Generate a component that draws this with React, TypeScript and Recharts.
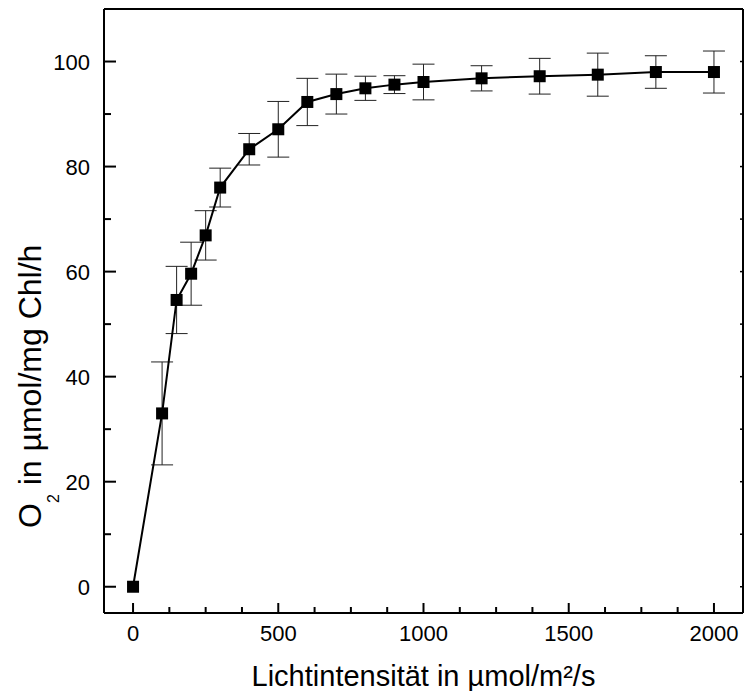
import { ComposedChart, Line, XAxis, YAxis, ErrorBar } from 'recharts';

// light intensity (µmol/m²/s)
const lightIntensity = [0, 100, 150, 200, 250, 300, 400, 500, 600, 700, 800, 900, 1000, 1200, 1400, 1600, 1800, 2000];
// O2 evolution (µmol/mg Chl/h)
const o2Rate = [0, 33.0, 54.6, 59.6, 66.9, 76.0, 83.3, 87.1, 92.3, 93.8, 94.9, 95.6, 96.1, 96.8, 97.2, 97.5, 98.0, 98.0];
const o2Error = [0, 9.8, 6.4, 6.0, 4.7, 3.7, 3.0, 5.3, 4.5, 3.8, 2.3, 1.7, 3.4, 2.4, 3.4, 4.1, 3.1, 4.0];

const xTicks = [0, 125, 250, 375, 500, 625, 750, 875, 1000, 1125, 1250, 1375, 1500, 1625, 1750, 1875, 2000];
const xLabels = [0, 500, 1000, 1500, 2000];
const yTicks = [0, 10, 20, 30, 40, 50, 60, 70, 80, 90, 100];
const yLabels = [0, 20, 40, 60, 80, 100];

const data = lightIntensity.map((x, i) => ({ x, y: o2Rate[i], err: o2Error[i] }));

const FONT = "'Liberation Sans', Arial, sans-serif";
const X_MARGIN = 10;
const Y_MARGIN = 14;

const BottomTick = (props: any) => {
  const { x, y, payload } = props;
  const axisY = y - X_MARGIN;
  const major = xLabels.includes(payload.value);
  return (
    <g>
      <line x1={x} x2={x} y1={axisY} y2={axisY - (major ? 10 : 6)} stroke="#000" strokeWidth={2} />
      {major && (
        <text x={x} y={axisY + 28} textAnchor="middle" fontSize={22} fontFamily={FONT} fill="#000">
          {payload.value}
        </text>
      )}
    </g>
  );
};

const LeftTick = (props: any) => {
  const { x, y, payload } = props;
  const axisX = x + Y_MARGIN;
  const major = yLabels.includes(payload.value);
  return (
    <g>
      <line x1={axisX} x2={axisX + (major ? 12 : 7)} y1={y} y2={y} stroke="#000" strokeWidth={2} />
      {major && (
        <text x={x} y={y + 8} textAnchor="end" fontSize={22} fontFamily={FONT} fill="#000">
          {payload.value}
        </text>
      )}
    </g>
  );
};

const TopTick = (props: any) => {
  const { x, y } = props;
  return <line x1={x} x2={x} y1={y} y2={y + 3} stroke="#000" strokeWidth={1.5} />;
};

const RightTick = (props: any) => {
  const { x, y } = props;
  return <line x1={x} x2={x - 3} y1={y} y2={y} stroke="#000" strokeWidth={1.5} />;
};

const Square = (props: any) => {
  const { cx, cy, index } = props;
  return <rect key={`sq-${index}`} x={cx - 6} y={cy - 6} width={12} height={12} fill="#000" />;
};

const YTitle = () => (
  <text transform="translate(41, 528) rotate(-90)" fontSize={32} fontFamily={FONT} fill="#000">
    O
    <tspan dy={18} fontSize={16}>2</tspan>
    <tspan dy={-18}> in µmol/mg Chl/h</tspan>
  </text>
);

export default function App() {
  return (
    <div style={{ position: 'absolute', left: 0, top: 0, background: '#fff' }}>
      <ComposedChart width={744} height={691} data={data} margin={{ top: 0, right: 0, bottom: 0, left: 0 }}>
        <XAxis
          dataKey="x"
          type="number"
          domain={[-100, 2100]}
          ticks={xTicks}
          interval={0}
          tickSize={0}
          tickMargin={X_MARGIN}
          tickLine={false}
          tick={<BottomTick />}
          axisLine={{ stroke: '#000', strokeWidth: 2 }}
          height={78}
          allowDataOverflow
          label={{
            value: 'Lichtintensität in µmol/m²/s',
            position: 'insideBottom',
            offset: 5,
            fontSize: 29,
            fontFamily: FONT,
            fill: '#000',
          }}
        />
        <XAxis
          xAxisId="top"
          orientation="top"
          type="number"
          domain={[-100, 2100]}
          ticks={xTicks}
          interval={0}
          tickSize={0}
          tickMargin={0}
          tickLine={false}
          tick={<TopTick />}
          axisLine={{ stroke: '#000', strokeWidth: 2 }}
          height={9}
          allowDataOverflow
        />
        <YAxis
          type="number"
          domain={[-5, 110]}
          ticks={yTicks}
          interval={0}
          tickSize={0}
          tickMargin={Y_MARGIN}
          tickLine={false}
          tick={<LeftTick />}
          axisLine={{ stroke: '#000', strokeWidth: 2 }}
          width={104}
          allowDataOverflow
          label={{ content: () => <YTitle /> }}
        />
        <YAxis
          yAxisId="right"
          orientation="right"
          type="number"
          domain={[-5, 110]}
          ticks={yTicks}
          interval={0}
          tickSize={0}
          tickMargin={0}
          tickLine={false}
          tick={<RightTick />}
          axisLine={{ stroke: '#000', strokeWidth: 2 }}
          width={1}
          allowDataOverflow
        />
        <Line
          dataKey="y"
          stroke="#000"
          strokeWidth={2}
          dot={<Square />}
          activeDot={false}
          isAnimationActive={false}
        >
          <ErrorBar dataKey="err" direction="y" width={11} stroke="#222" strokeWidth={1} />
        </Line>
      </ComposedChart>
    </div>
  );
}
